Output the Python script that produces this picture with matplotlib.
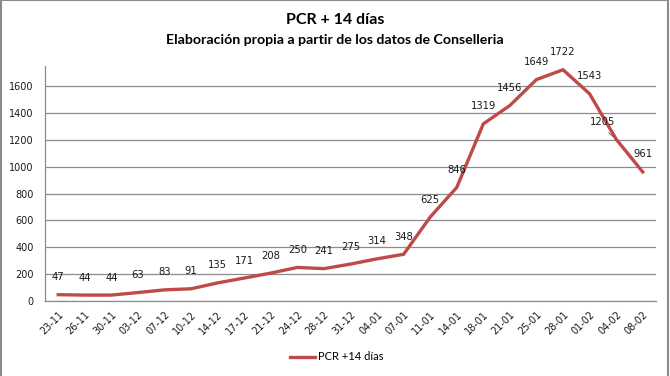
import matplotlib
matplotlib.use("Agg")
import matplotlib.pyplot as plt
from matplotlib.patches import Rectangle

# Data
fechas = ["23-11", "26-11", "30-11", "03-12", "07-12", "10-12", "14-12",
          "17-12", "21-12", "24-12", "28-12", "31-12", "04-01", "07-01",
          "11-01", "14-01", "18-01", "21-01", "25-01", "28-01", "01-02",
          "04-02", "08-02"]
pcr = [47, 44, 44, 63, 83, 91, 135, 171, 208, 250, 241, 275, 314, 348,
       625, 846, 1319, 1456, 1649, 1722, 1543, 1205, 961]
yticks = [0, 200, 400, 600, 800, 1000, 1200, 1400, 1600]

red = "#BE4B48"
grid = "#8C8C8C"

fig = plt.figure(figsize=(6.7, 3.76), dpi=100)
ax = fig.add_axes([45/670, 1 - 301/376, (656 - 45)/670, (301 - 66)/376])

x = list(range(len(fechas)))
ax.plot(x, pcr, color=red, lw=2.4, solid_joinstyle="miter", label="PCR +14 días")

for i, v in enumerate(pcr):
    dx = -10 if fechas[i] == "04-02" else 0
    ax.annotate(str(v), (i, v), xytext=(dx, 9), textcoords="offset points",
                ha="center", va="bottom", fontsize=7.2, family="DejaVu Sans",
                color="#1a1a1a")
# leader line for the shifted label
i = fechas.index("04-02")
ax.annotate("", (i, pcr[i]), xytext=(-7, 6), textcoords="offset points",
            arrowprops=dict(arrowstyle="-", color="#555555", lw=0.6, shrinkB=3))

ax.set_xlim(-0.5, len(fechas) - 0.5)
ax.set_ylim(0, 1750)
ax.set_yticks(yticks)
ax.set_xticks(x)
ax.set_xticklabels(fechas, rotation=45, ha="right", rotation_mode="anchor")
ax.tick_params(axis="both", length=0, labelsize=7, colors="#1a1a1a")
ax.tick_params(axis="y", pad=8)
ax.tick_params(axis="x", pad=6)
ax.yaxis.grid(True, color=grid, lw=0.9)
ax.set_axisbelow(True)
for s in ["top", "right"]:
    ax.spines[s].set_visible(False)
for s in ["left", "bottom"]:
    ax.spines[s].set_color(grid)
    ax.spines[s].set_linewidth(0.9)

fig.text(0.5, 1 - 20/376, "PCR + 14 días", ha="center", va="center",
         fontsize=11.5, fontweight="bold", family="Lato")
fig.text(0.5, 1 - 40/376, "Elaboración propia a partir de los datos de Conselleria",
         ha="center", va="center", fontsize=10.2, fontweight="bold", family="Lato")

leg = fig.legend(loc="center", bbox_to_anchor=(337/670, 1 - 357/376), frameon=False,
                 prop=dict(family="Lato", size=8), handlelength=2.2, handletextpad=0.3)

# chart frame (bottom edge lies outside the image)
fig.patches.append(Rectangle((1/670, -10/376), 667/670, 386/376, transform=fig.transFigure,
                             fill=False, ec="#8a8a8a", lw=1.5, clip_on=False))

fig.savefig("out.png", dpi=100)
